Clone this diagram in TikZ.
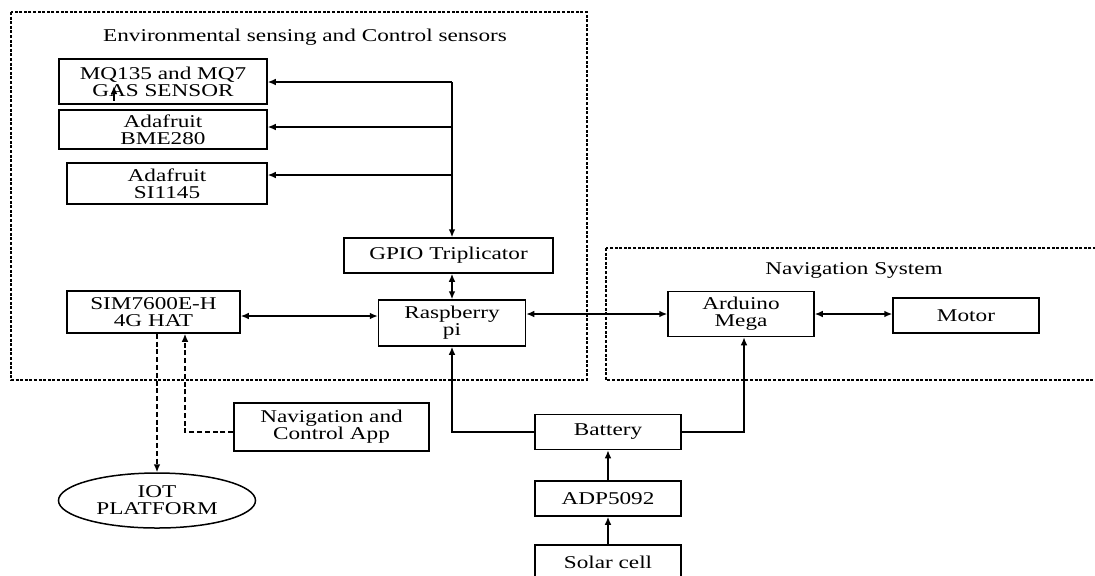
\documentclass[tikz,border=0pt]{standalone}
\usepackage{fontspec}
\setmainfont{Liberation Serif}[FakeStretch=1.29]
\usetikzlibrary{arrows.meta,shapes.geometric}
\begin{document}
\begin{tikzpicture}[x=0.5pt,y=-0.5pt,
  box/.style={draw,line width=0.75pt,align=center,inner sep=0pt,font=\fontsize{9}{8.6}\selectfont},
  frame/.style={draw,line width=0.7pt,dash pattern=on 1.5pt off 0.8pt},
  conn/.style={line width=0.75pt,-{Latex[length=4pt,width=3.4pt]}},
  bconn/.style={line width=0.75pt,{Latex[length=4pt,width=3.4pt]}-{Latex[length=4pt,width=3.4pt]}},
  dconn/.style={conn,dash pattern=on 2.5pt off 1.4pt},
  ttl/.style={font=\fontsize{9}{8.6}\selectfont}]
\clip (0,0) rectangle (1095,575);
\draw[frame] (11,12) rectangle (587,380);
\draw[frame] (606,248) rectangle (1110,380);
\node[ttl] (envt) at (305,37) {Environmental sensing and Control sensors};
\node[ttl] (navt) at (854,270) {Navigation System};

\node[box,minimum width=104pt,minimum height=22.5pt] (mq) at (163,81.5) {MQ135 and MQ7\\GAS SENSOR};
\node[box,minimum width=104pt,minimum height=19.5pt] (bme) at (163,129.5) {Adafruit\\BME280};
\node[box,minimum width=100pt,minimum height=20.5pt] (si) at (167,183.5) {Adafruit\\SI1145};
\node[box,minimum width=104.5pt,minimum height=17.5pt] (gpio) at (448.5,255.5) {GPIO Triplicator};
\node[box,minimum width=73.5pt,minimum height=23pt] (rpi) at (452,323) {Raspberry\\pi};
\node[box,minimum width=86.5pt,minimum height=21pt] (sim) at (153.5,312) {SIM7600E-H\\4G HAT};
\node[box,minimum width=73pt,minimum height=22.5pt] (ard) at (741,314) {Arduino\\Mega};
\node[box,minimum width=73pt,minimum height=17.5pt] (motor) at (966,315.5) {Motor};
\node[box,minimum width=97.5pt,minimum height=24pt] (app) at (331.5,427) {Navigation and\\Control App};
\node[box,minimum width=73pt,minimum height=17.5pt] (bat) at (608,432) {Battery};
\node[box,minimum width=73pt,minimum height=17.5pt] (adp) at (608,498.5) {ADP5092};
\node[box,minimum width=73pt,minimum height=17.5pt] (solar) at (608,562.5) {Solar cell};
\node[box,ellipse,minimum width=98.5pt,minimum height=27.5pt] (iot) at (157,500.5) {IOT\\PLATFORM};

\coordinate (t0) at (452,82);
\coordinate (t1) at (452,127);
\coordinate (t2) at (452,175);
\draw[conn] (t0) -- (t0 -| mq.east);
\draw[conn] (t1) -- (t1 -| bme.east);
\draw[conn] (t2) -- (t2 -| si.east);
\draw[conn] (t0) -- (t0 |- gpio.north);
\draw[bconn] (gpio.south -| t0) -- (rpi.north -| t0);
\draw[bconn] ([yshift=-2pt]sim.east) -- ([yshift=-2pt]sim.east -| rpi.west);
\draw[bconn] ([yshift=4.5pt]rpi.east) -- ([yshift=4.5pt]rpi.east -| ard.west);
\draw[bconn] (ard.east) -- (ard.east -| motor.west);
\draw[conn] (bat.west) -| (rpi.south);
\draw[conn] (bat.east) -| ([xshift=1.5pt]ard.south);
\draw[conn] (adp.north) -- (bat.south);
\draw[conn] (solar.north) -- (adp.south);
\draw[dconn] (iot.north |- sim.south) -- (iot.north);
\draw[dconn] ([yshift=-2.5pt]app.west) -| ([xshift=15.75pt]sim.south);
\coordinate (a0) at (114,101);
\coordinate (a1) at (114,86);
\draw[conn] (a0) -- (a1);
\end{tikzpicture}
\end{document}
